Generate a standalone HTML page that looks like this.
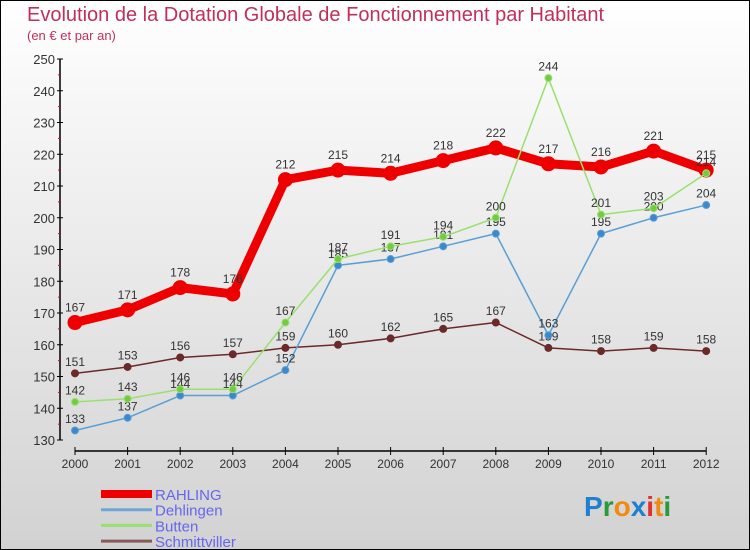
<!DOCTYPE html>
<html><head><meta charset="utf-8"><style>
html,body{margin:0;padding:0}
#c{position:relative;width:748px;height:548px;border:1px solid #000;background:linear-gradient(#ffffff,#d2d2d2);overflow:hidden;font-family:"Liberation Sans",sans-serif}
.t{position:absolute;left:26px;top:3px;font-size:20px;color:#c0305a;font-weight:300}
.s{position:absolute;left:26px;top:27px;font-size:13px;color:#c0305a}
</style></head><body>
<div id="c">
<div class="t">Evolution de la Dotation Globale de Fonctionnement par Habitant</div>
<div class="s">(en € et par an)</div>
<svg id="svg" width="748" height="548" style="position:absolute;left:0;top:0"></svg>
</div>
<script>
const years=[2000,2001,2002,2003,2004,2005,2006,2007,2008,2009,2010,2011,2012];
const rahling=[167,171,178,176,212,215,214,218,222,217,216,221,215];
const dehlingen=[133,137,144,144,152,185,187,191,195,163,195,200,204];
const butten=[142,143,146,146,167,187,191,194,200,244,201,203,214];
const schmitt=[151,153,156,157,159,160,162,165,167,159,158,159,158];
const yTicks=[130,140,150,160,170,180,190,200,210,220,230,240,250];
const seriesNames=["RAHLING","Dehlingen","Butten","Schmittviller"];
const NS="http://www.w3.org/2000/svg";
const svg=document.getElementById('svg');
const X=i=>74+i*52.6, Y=v=>439-(v-130)*3.175;
function el(tag,attrs,parent){const e=document.createElementNS(NS,tag);for(const k in attrs)e.setAttribute(k,attrs[k]);(parent||svg).appendChild(e);return e;}
// axes
let a=el('line',{x1:59,y1:Y(250),x2:59,y2:Y(130),stroke:'#000','stroke-width':1.5});


a=el('line',{x1:X(0),y1:450,x2:X(12),y2:450,stroke:'#000','stroke-width':1.5});


yTicks.forEach((v,i)=>{
 el('line',{x1:56,x2:62,y1:Y(v),y2:Y(v),stroke:'#000'});
 if(i<yTicks.length-1) el('line',{x1:57,x2:59,y1:Y(v+5),y2:Y(v+5),stroke:'#e00'});
 const t=el('text',{x:54,y:Y(v)+5,'text-anchor':'end','font-size':13,fill:'#333'});
 t.textContent=v;
 
 
});
years.forEach((y,i)=>{
 el('line',{x1:X(i),x2:X(i),y1:446,y2:454,stroke:'#000'});
 const t=el('text',{x:X(i),y:467,'text-anchor':'middle','font-size':12,fill:'#333'});
 t.textContent=y;
 
 
});
function series(data,color,dot,w,r,name){
 const g=el('g',{});
 
 
 el('polyline',{points:data.map((v,i)=>X(i)+','+Y(v)).join(' '),fill:'none',stroke:color,'stroke-width':w,'stroke-linejoin':'round'},g);
 data.forEach((v,i)=>{
  const c=el('circle',{cx:X(i),cy:Y(v),r:r,fill:dot,stroke:color,'stroke-width':1},g);
  
  
  const t=el('text',{x:X(i),y:Y(v)-r-4,'text-anchor':'middle','font-size':12,fill:'#333'},g);
  t.textContent=v;
  
  
 });
}
series(rahling,'#ee0000','#ee0000',9,7,'rahling');
series(schmitt,'#6b2a2a','#6b2a2a',1.5,3.5,'schmittviller');
series(dehlingen,'#5a9fd4','#3b88cc',1.5,3.5,'dehlingen');
series(butten,'#99e070','#70cc40',1.5,3.5,'butten');
// legend
const lc=['#ee0000','#6fa6d6','#99e070','#8a5a5a'], lw=[8,3,3,3];
seriesNames.forEach((n,i)=>{
 const y=493+i*15.7;
 const g=el('g',{});
 
 
 el('line',{x1:100,x2:151,y1:y,y2:y,stroke:lc[i],'stroke-width':lw[i]},g);
 const t=el('text',{x:154,y:y+6,'font-size':15,fill:'#6666ee'},g);
 t.textContent=n;
});
// logo
const lg=el('text',{x:583,y:515,'font-size':28,'font-weight':'bold','font-family':'Liberation Sans, sans-serif'});


[['P','#1f7fd0'],['r','#2a9a3a'],['o','#f08a10'],['x','#1f7fd0'],['i','#e03030'],['t','#f08a10'],['i','#2a9a3a']].forEach(([c,f])=>{const s=el('tspan',{fill:f},lg);s.textContent=c;});
</script>
</body></html>
